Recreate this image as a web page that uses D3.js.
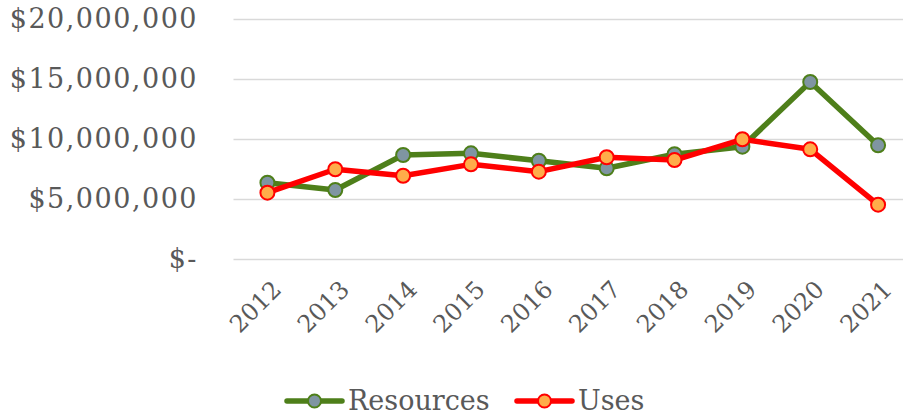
<!DOCTYPE html>
<html>
<head>
<meta charset="utf-8">
<script src="https://cdn.jsdelivr.net/npm/d3@7"></script>
<style>
  body { margin: 0; background: #fff; }
  text { font-family: "DejaVu Serif", Georgia, serif; fill: #595959; }
</style>
</head>
<body>
<svg width="903" height="415"></svg>
<script>
const years = ["2012", "2013", "2014", "2015", "2016", "2017", "2018", "2019", "2020", "2021"];
const resources = [6400000, 5790000, 8710000, 8850000, 8230000, 7600000, 8770000, 9400000, 14790000, 9520000];
const uses = [5570000, 7520000, 6980000, 7930000, 7320000, 8520000, 8290000, 10020000, 9180000, 4570000];
const yTicks = [0, 5000000, 10000000, 15000000, 20000000];
const seriesNames = ["Resources", "Uses"];

const svg = d3.select("svg");
const width = 903;

const x = d3.scalePoint().domain(years).range([233.5, 912]).padding(0.5);
const y = d3.scaleLinear().domain([0, 20000000]).range([259.5, 19.5]);

const fmt = d => d === 0 ? "$-" : "$" + d3.format(",")(d);

// gridlines
svg.append("g")
  .selectAll("line")
  .data(yTicks)
  .join("line")
  .attr("x1", 233.5)
  .attr("x2", width)
  .attr("y1", d => y(d))
  .attr("y2", d => y(d))
  .attr("stroke", "#d9d9d9")
  .attr("stroke-width", 1.5);

// y axis labels
const yAxis = svg.append("g")
  .attr("transform", "translate(198,0)")
  .call(d3.axisLeft(y).tickValues(yTicks).tickFormat(fmt).tickSize(0).tickPadding(0));
yAxis.select(".domain").remove();
yAxis.selectAll("text")
  .style("font-size", "27px")
  .style("letter-spacing", "1.5px")
  .attr("dy", "0.3em");

// x axis labels
const xAxis = svg.append("g")
  .attr("transform", "translate(0,272)")
  .call(d3.axisBottom(x).tickSize(0).tickPadding(0));
xAxis.select(".domain").remove();
xAxis.selectAll("text")
  .style("font-size", "24px")
  .attr("text-anchor", "end")
  .attr("y", 0)
  .attr("dy", "0.35em")
  .attr("transform", "translate(9,13) rotate(-45)");

const series = [
  { name: seriesNames[0], values: resources, line: "#4e7f1a", fill: "#7f95a2" },
  { name: seriesNames[1], values: uses, line: "#ff0000", fill: "#ffac4a" }
];

const line = d3.line()
  .x((d, i) => x(years[i]))
  .y(d => y(d));

series.forEach(s => {
  const g = svg.append("g");
  g.append("path")
    .datum(s.values)
    .attr("d", line)
    .attr("fill", "none")
    .attr("stroke", s.line)
    .attr("stroke-width", 5.5)
    .attr("stroke-linejoin", "round");
  g.selectAll("circle")
    .data(s.values)
    .join("circle")
    .attr("cx", (d, i) => x(years[i]))
    .attr("cy", d => y(d))
    .attr("r", 7)
    .attr("fill", s.fill)
    .attr("stroke", s.line)
    .attr("stroke-width", 2);
});

// legend
const legendX = [287, 517];
const legend = svg.append("g")
  .selectAll("g")
  .data(series)
  .join("g")
  .attr("transform", (d, i) => `translate(${legendX[i]},401)`);
legend.append("line")
  .attr("x1", 0).attr("x2", 55)
  .attr("stroke", d => d.line)
  .attr("stroke-width", 5.5)
  .attr("stroke-linecap", "round");
legend.append("circle")
  .attr("cx", 27.5)
  .attr("r", 6.5)
  .attr("fill", d => d.fill)
  .attr("stroke", d => d.line)
  .attr("stroke-width", 2);
legend.append("text")
  .attr("x", 61)
  .attr("dy", "0.35em")
  .style("font-size", "27px")
  .text(d => d.name);
</script>
</body>
</html>
